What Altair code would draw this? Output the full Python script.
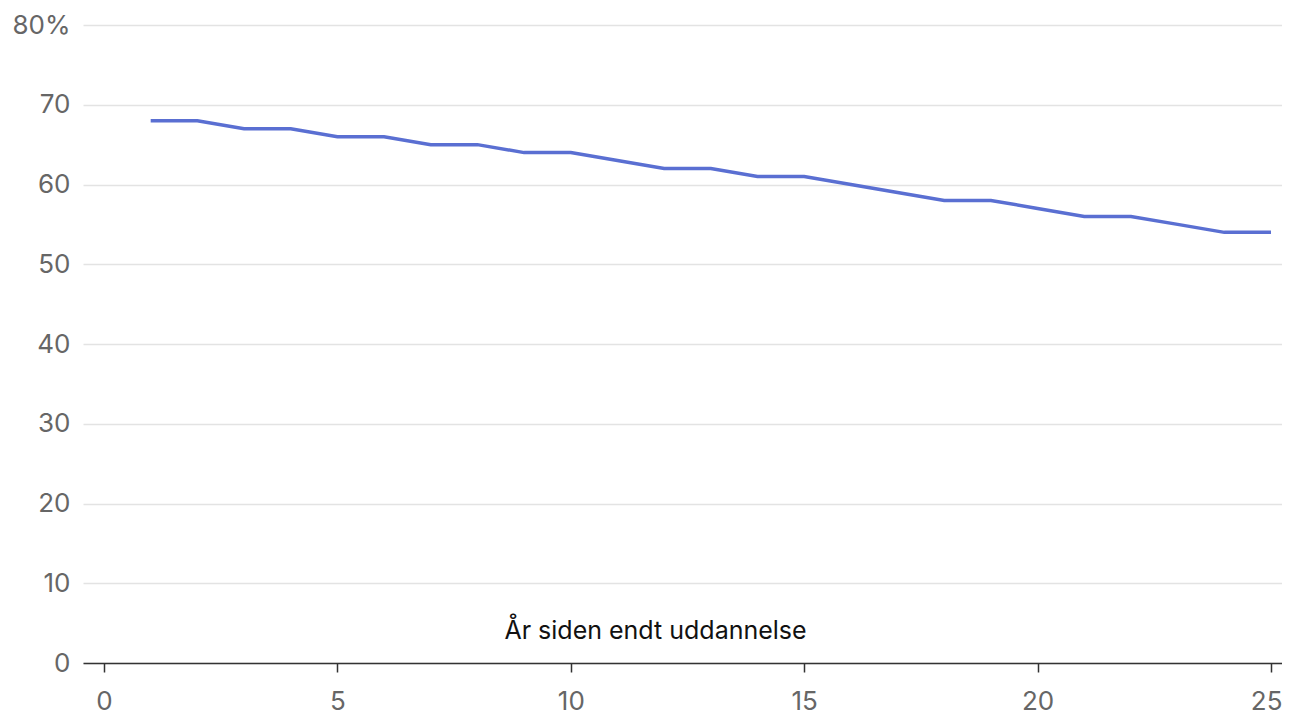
import altair as alt
import pandas as pd

years = list(range(1, 26))
share = [68, 68, 67, 67, 66, 66, 65, 65, 64, 64, 63, 62, 62, 61, 61,
         60, 59, 58, 58, 57, 56, 56, 55, 54, 54]
x_ticks = [0, 5, 10, 15, 20, 25]
y_ticks = [0, 10, 20, 30, 40, 50, 60, 70, 80]

df = pd.DataFrame({"year": years, "share": share})

FONT = "Inter"

chart = alt.Chart(df).mark_line(color="#5a6fd2", strokeWidth=3.5).encode(
    x=alt.X("year:Q",
            scale=alt.Scale(domain=[-0.45, 25.236], nice=False, zero=False),
            axis=alt.Axis(values=x_ticks, grid=False, domain=True,
                          domainColor="#333333", domainWidth=1.5,
                          tickColor="#333333", tickSize=9, tickWidth=1.5,
                          labelColor="#666666", labelFontSize=26, labelFont=FONT,
                          labelPadding=16, labelFlush=15, labelFlushOffset=11,
                          title="År siden endt uddannelse", titleFont=FONT,
                          titleFontSize=25, titleFontWeight="normal",
                          titleColor="#111111", titleX=572, titleY=-25,
                          titleAlign="center", titleBaseline="alphabetic")),
    y=alt.Y("share:Q",
            scale=alt.Scale(domain=[0, 80], nice=False),
            axis=alt.Axis(values=y_ticks, grid=True, gridColor="#e3e3e3",
                          gridWidth=1.5, domain=False, ticks=False,
                          labelColor="#666666", labelFontSize=26, labelFont=FONT,
                          labelPadding=13,
                          labelExpr="datum.value == 80 ? '80%' : datum.label",
                          title=None)),
).properties(
    width=1199, height=638,
    autosize=alt.AutoSizeParams(type="none"),
    padding={"left": 75, "top": 17, "right": 0, "bottom": 57},
).configure_view(stroke=None)

chart.save("out.html", embed_options={"renderer": "svg", "actions": False})
